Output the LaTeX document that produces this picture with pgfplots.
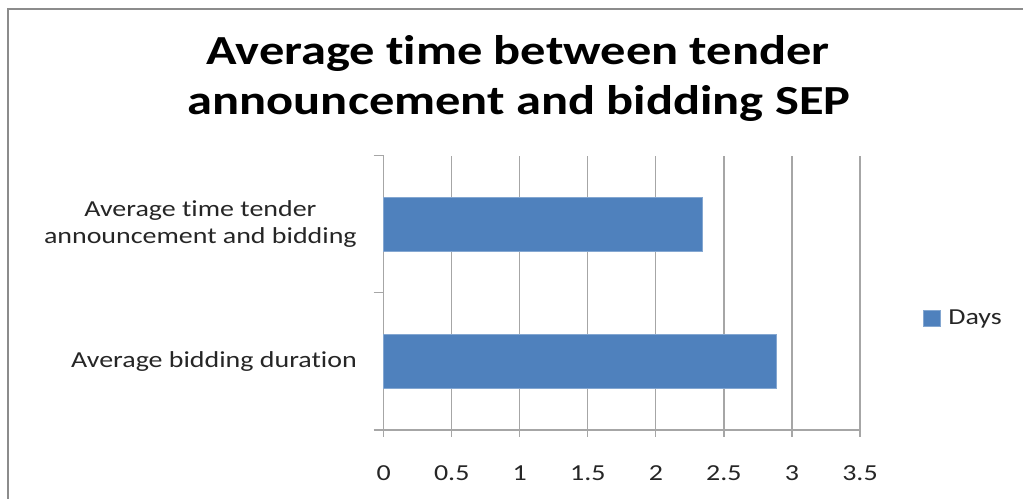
\documentclass[border=0pt]{standalone}
\usepackage{fontspec}
\setmainfont[FakeStretch=1.22, Ligatures=NoCommon]{Carlito}
\usepackage{pgfplots}
\pgfplotsset{compat=1.18}
\definecolor{barblue}{HTML}{4F81BD}
\definecolor{gridgray}{HTML}{A6A6A6}
\definecolor{framegray}{HTML}{8C8C8C}
\begin{document}
\begin{tikzpicture}[x=1bp,y=1bp]
\clip (0,0) rectangle (1023,499);
\fill[white] (0,0) rectangle (1023,499);
\draw[framegray, line width=2bp] (8,490) rectangle (1060,-40);
\node[anchor=base, inner sep=0pt, font=\fontsize{41.5}{50}\selectfont\bfseries] at (518,434) {Average time between tender};
\node[anchor=base, inner sep=0pt, font=\fontsize{41.5}{50}\selectfont\bfseries] at (519,384) {announcement and bidding SEP};
\begin{axis}[
  at={(383.7bp,69bp)}, anchor=south west,
  scale only axis, width=476.3bp, height=274.3bp,
  xmin=0, xmax=3.5, ymin=-0.5, ymax=1.5,
  axis x line*=bottom, axis y line*=left,
  axis line style={gridgray, line width=1.2bp},
  xtick={0,0.5,1,1.5,2,2.5,3,3.5},
  xmajorgrids, grid style={gridgray, line width=1.2bp},
  ytick={0,1},
  yticklabels={{Average bidding duration},{Average time tender\\announcement and bidding}},
  minor ytick={-0.5,0.5,1.5},
  tick align=outside,
  major tick length=7bp, minor tick length=10bp,
  x tick style={gridgray, line width=1.2bp},
  y tick style={draw=none},
  minor y tick style={draw=gridgray, line width=1.2bp},
  /pgf/number format/assume math mode=true,
  ticklabel style={font=\fontsize{23}{27.3}\selectfont, text=black!85},
  yticklabel style={align=center, anchor=east, inner sep=0pt, xshift=-19.7bp},
  xticklabel style={anchor=base, inner sep=0pt, yshift=-43.3bp},
  xtick pos=bottom, ytick pos=left,
  legend style={draw=none, fill=none, at={(rel axis cs:1.132,0.408)}, anchor=west,
    font=\fontsize{23}{27.3}\selectfont, text=black!85, inner sep=0pt,
    nodes={inner sep=0pt}, /tikz/every odd column/.style={column sep=8bp}},
  legend image code/.code={\fill[#1] (0bp,-8.2bp) rectangle (16.7bp,8.2bp);},
  legend cell align=left,
  clip=false,
]
\addplot[xbar, bar width=54bp, fill=barblue, draw=barblue!70!white, line width=0.6bp] coordinates {(2.885,0) (2.344,1)};
\addlegendentry{Days}
\end{axis}
\end{tikzpicture}
\end{document}
